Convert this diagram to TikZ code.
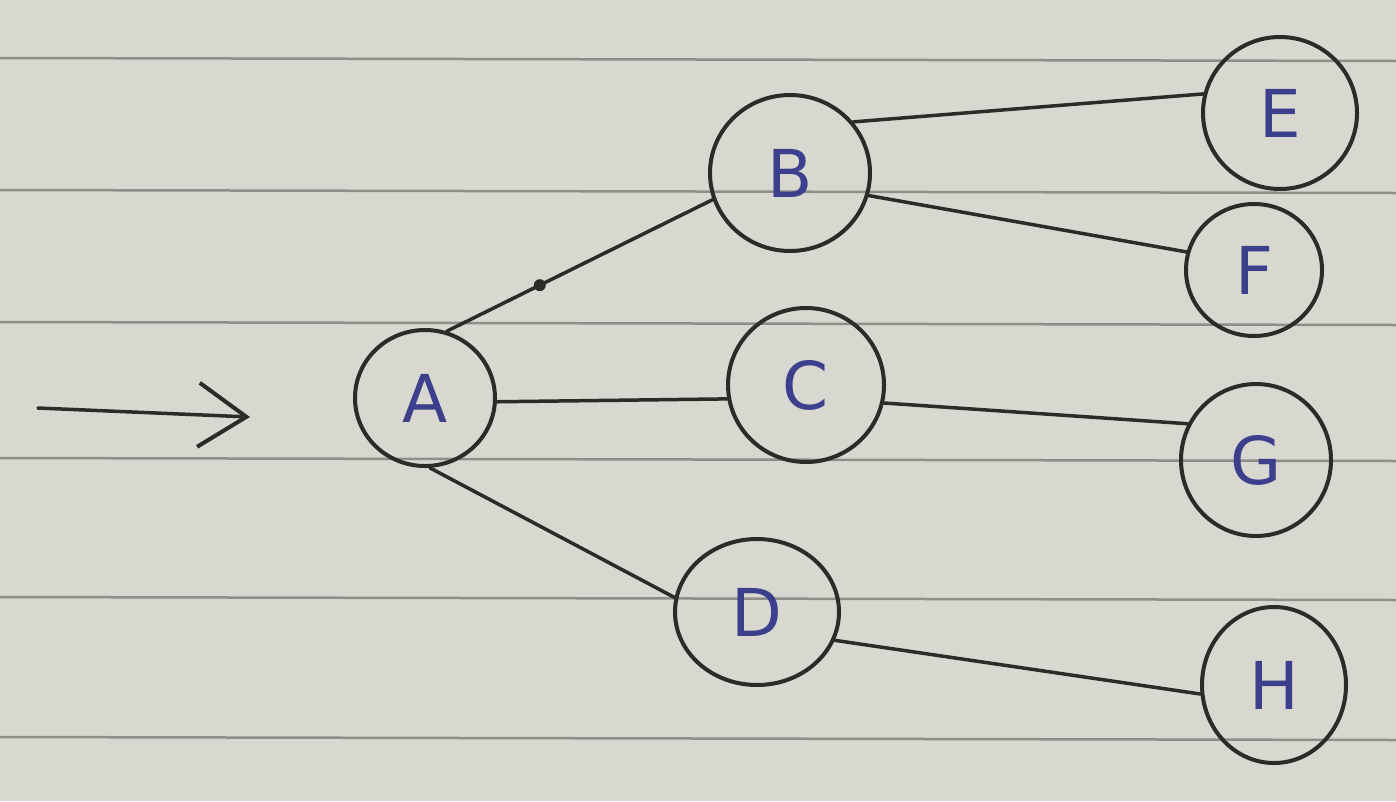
\documentclass[tikz,border=0pt]{standalone}
\usepackage{fontspec}
\setmainfont{DejaVu Sans}
\usetikzlibrary{shapes.geometric,arrows.meta}
\definecolor{paper}{HTML}{D9D8D0}
\definecolor{rule}{HTML}{8F8F8A}
\definecolor{ink}{HTML}{2B2B28}
\definecolor{pen}{HTML}{3B3F8C}
\begin{document}
\begin{tikzpicture}[x=1pt,y=-1pt,
  vert/.style={ellipse,draw=ink,line width=4pt,inner sep=0pt,text=pen,
    font=\fontsize{66}{66}\selectfont},
  edge/.style={draw=ink,line width=3.5pt,line cap=round},
  ruleline/.style={draw=rule,line width=2.5pt}]
\fill[paper] (0,0) rectangle (1396,801);
\useasboundingbox (0,0) rectangle (1396,801);
\foreach \yy in {58,190,322,458,597,737}
  \draw[ruleline] (0,\yy) -- (1396,\yy+3);
\node[vert,minimum width=140pt,minimum height=136pt] (A) at (425,398) {A};
\node[vert,minimum width=160pt,minimum height=156pt] (B) at (790,173) {B};
\node[vert,minimum width=156pt,minimum height=154pt] (C) at (806,385) {C};
\node[vert,minimum width=164pt,minimum height=146pt] (D) at (757,612) {D};
\node[vert,minimum width=154pt,minimum height=152pt] (E) at (1280,113) {E};
\node[vert,minimum width=136pt,minimum height=132pt] (F) at (1254,270) {F};
\node[vert,minimum width=150pt,minimum height=152pt] (G) at (1256,460) {G};
\node[vert,minimum width=144pt,minimum height=156pt] (H) at (1274,685) {H};
\coordinate (s) at (38,408);
\coordinate (t) at (250,417);
\draw[edge,-{Straight Barb[length=48pt,width=64pt,line width=4pt]}] (s) -- (t);
\draw[edge] (A.72) -- node[pos=0.35,circle,fill=ink,inner sep=0pt,minimum size=12pt] (m) {} (B.-161);
\draw[edge] (A.-3) -- (C.190);
\draw[edge] (A.-86) -- (D.170);
\draw[edge] (B.39) -- (E.166);
\draw[edge] (B.-16) -- (F.165);
\draw[edge] (C.-13) -- (G.152);
\draw[edge] (D.-20) -- (H.187);
\end{tikzpicture}
\end{document}
